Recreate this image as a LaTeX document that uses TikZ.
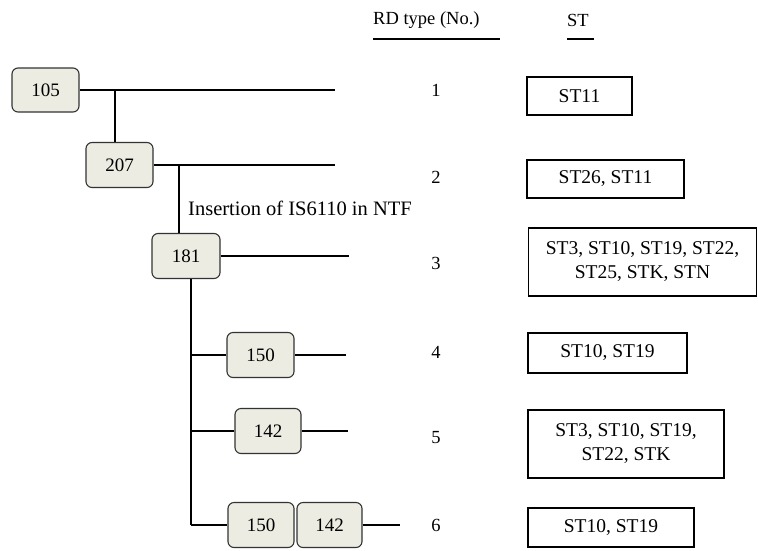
\documentclass[tikz,border=0pt]{standalone}
\usepackage{fontspec}
\setmainfont{Liberation Serif}
\definecolor{boxfill}{HTML}{ECECE2}
\definecolor{boxline}{HTML}{333333}
\begin{document}
\begin{tikzpicture}[x=1pt,y=-1pt,
  font=\fontsize{18.5}{22}\selectfont,
  rdbox/.style={draw=boxline,line width=1.1pt,fill=boxfill,rounded corners=6pt,
    minimum width=67pt,minimum height=45pt,inner sep=0pt,font=\fontsize{19}{22}\selectfont},
  stbox/.style={draw=black,line width=1.2pt,inner sep=0pt,align=center,
    font=\fontsize{19.5}{24}\selectfont},
  conn/.style={line width=2pt,black},
  txt/.style={inner sep=0pt}]
\useasboundingbox (0,0) rectangle (758,550);
% header
\node[txt,anchor=west] (hrd) at (373,20) {RD type (No.)};
\node[txt,anchor=west] (hst) at (567,20) {ST};
\coordinate (u1a) at (373,39); \coordinate (u1b) at (500,39);
\coordinate (u2a) at (567,39); \coordinate (u2b) at (594,39);
\draw[line width=1.6pt] (u1a) -- (u1b);
\draw[line width=1.6pt] (u2a) -- (u2b);
% RD boxes
\node[rdbox,minimum height=44pt] (b105) at (45.5,90) {105};
\node[rdbox] (b207) at (119.5,165) {207};
\node[rdbox,minimum width=68pt] (b181) at (186,256) {181};
\node[rdbox] (b150a) at (260.5,355) {150};
\node[rdbox,minimum width=66pt] (b142a) at (268,431) {142};
\node[rdbox,minimum width=66pt] (b150b) at (261,525) {150};
\node[rdbox,minimum width=65pt] (b142b) at (329.5,525) {142};
% coordinates
\coordinate (e1) at (335,90);
\coordinate (j1) at (115,90);
\coordinate (e2) at (335,165);
\coordinate (j2) at (179,165);
\coordinate (e3) at (349,256);
\coordinate (j3) at (191,525);
\coordinate (k4) at (191,355);
\coordinate (e4) at (346,355);
\coordinate (k5) at (191,431);
\coordinate (e5) at (348,431);
\coordinate (e6) at (400,525);
% connectors
\draw[conn] (b105.east) -- (e1);
\draw[conn] (j1) -- (j1 |- b207.north);
\draw[conn] (b207.east) -- (e2);
\draw[conn] (j2) -- (j2 |- b181.north);
\draw[conn] (b181.east) -- (e3);
\draw[conn] (b181.south -| j3) -- (j3);
\draw[conn] (k4) -- (b150a.west);
\draw[conn] (b150a.east) -- (e4);
\draw[conn] (k5) -- (b142a.west);
\draw[conn] (b142a.east) -- (e5);
\draw[conn] (j3) -- (b150b.west);
\draw[conn] (b142b.east) -- (e6);
% label
\node[txt,anchor=west,font=\fontsize{20.5}{24}\selectfont] (ins) at (188,208) {Insertion of IS6110 in NTF};
% numbers
\node[txt] (n1) at (436,90) {1};
\node[txt] (n2) at (436,177) {2};
\node[txt] (n3) at (436,263) {3};
\node[txt] (n4) at (436,352) {4};
\node[txt] (n5) at (436,438) {5};
\node[txt] (n6) at (436,525) {6};
% ST boxes
\node[stbox,minimum width=105pt,minimum height=38pt] (s1) at (579.5,96) {ST11};
\node[stbox,minimum width=157pt,minimum height=38pt] (s2) at (605.5,179) {ST26, ST11};
\node[stbox,minimum width=228pt,minimum height=68pt] (s3) at (642.5,262) {ST3, ST10, ST19, ST22,\\ST25, STK, STN};
\node[stbox,minimum width=159pt,minimum height=40pt] (s4) at (607.5,353) {ST10, ST19};
\node[stbox,minimum width=196pt,minimum height=68pt] (s5) at (626,444) {ST3, ST10, ST19,\\ST22, STK};
\node[stbox,minimum width=166pt,minimum height=39pt] (s6) at (611,527.5) {ST10, ST19};
\end{tikzpicture}
\end{document}
